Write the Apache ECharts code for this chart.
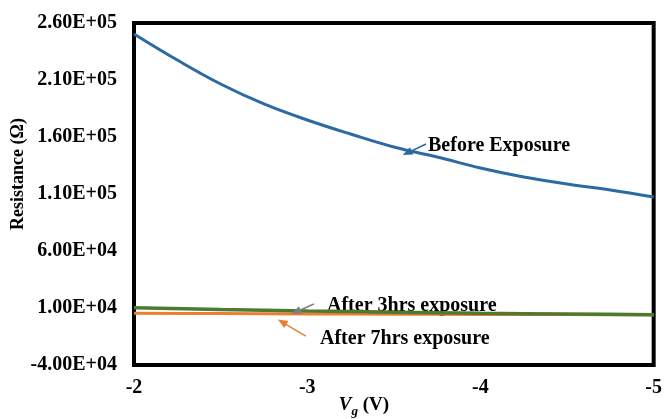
<!DOCTYPE html>
<html>
<head>
<meta charset="utf-8">
<script src="https://cdn.jsdelivr.net/npm/echarts@6/dist/echarts.min.js"></script>
<style>
html,body{margin:0;padding:0;background:#fff;}
#c{width:665px;height:419px;}
</style>
</head>
<body>
<div id="c"></div>
<script>
// Gate voltage (V)
const vgBefore = [-2.00,-2.25,-2.50,-2.75,-3.00,-3.25,-3.50,-3.75,-4.00,-4.25,-4.50,-4.75,-5.00];
const resBefore = [250400,227500,206500,189000,174900,162600,151200,142500,132800,124900,118800,113500,107400];
const vgAfter = [-2.0,-2.5,-3.0,-3.5,-4.0,-4.5,-5.0];
const res3hrs = [10200,8700,7400,6300,5400,4700,4100];
const res7hrs = [5400,5100,4800,4600,4400,4200,4000];
const yTicks = { min: -40000, max: 260000, interval: 50000 };
const xTicks = { min: -5, max: -2, interval: 1 };
// annotation arrows in data coordinates [start, tip]
const arrowBefore = [[-3.686,153900],[-3.577,146000]];
const arrow3hrs = [[-3.038,13500],[-2.935,6500]];
const arrow7hrs = [[-2.992,-14600],[-2.855,-2300]];

const FONT = '"Liberation Serif","Times New Roman",serif';
function sci(v){
  let s = Number(v).toExponential(2).toUpperCase();
  return s.replace(/E([+-])(\d)$/, 'E$10$2');
}
function pairs(xs, ys){ return xs.map((x,i)=>[x, ys[i]]); }
function arrowLine(a, color){
  return {
    silent: true, animation: false,
    symbol: ['none','triangle'], symbolSize: [8,10],
    label: {show:false},
    lineStyle: {color: color, width: 1.5, type: 'solid'},
    emphasis: {disabled: true},
    data: [[{coord: a[0]}, {coord: a[1]}]]
  };
}
const chart = echarts.init(document.getElementById('c'), null, {renderer:'canvas'});
chart.setOption({
  animation: false,
  backgroundColor: '#fff',
  grid: {left: 134, right: 8, top: 23, bottom: 54, show: true, borderColor: '#000', borderWidth: 4, backgroundColor: 'transparent'},
  xAxis: {
    type: 'value', inverse: true, min: xTicks.min, max: xTicks.max, interval: xTicks.interval,
    axisLine: {show: false}, axisTick: {show: false}, splitLine: {show: false},
    axisLabel: {color: '#000', fontFamily: FONT, fontWeight: 'bold', fontSize: 20, margin: 13,
      formatter: v => String(v)}
  },
  yAxis: {
    type: 'value', min: yTicks.min, max: yTicks.max, interval: yTicks.interval,
    axisLine: {show: false}, axisTick: {show: false}, splitLine: {show: false},
    axisLabel: {color: '#000', fontFamily: FONT, fontWeight: 'bold', fontSize: 20, margin: 17, formatter: sci}
  },
  series: [
    {name: 'Before Exposure', type: 'line', data: pairs(vgBefore, resBefore), smooth: 0.4, showSymbol: false,
      lineStyle: {color: '#2C6AA3', width: 3}, itemStyle: {color: '#2C6AA3'}, z: 3,
      markLine: arrowLine(arrowBefore, '#2C6AA3')},
    {name: 'After 7hrs exposure', type: 'line', data: pairs(vgAfter, res7hrs), smooth: 0.3, showSymbol: false,
      lineStyle: {color: '#ED7D31', width: 3}, itemStyle: {color: '#ED7D31'}, z: 2,
      markLine: arrowLine(arrow7hrs, '#ED7D31')},
    {name: 'After 3hrs exposure', type: 'line', data: pairs(vgAfter, res3hrs), smooth: 0.3, showSymbol: false,
      lineStyle: {color: '#4E7A30', width: 3.5}, itemStyle: {color: '#4E7A30'}, z: 3,
      markLine: arrowLine(arrow3hrs, '#7F7F7F')}
  ],
  graphic: [
    {type: 'text', x: 18, y: 174, rotation: Math.PI/2, silent: true,
      style: {text: 'Resistance (Ω)', font: 'bold 18px ' + FONT, fill: '#000', textAlign: 'center', textVerticalAlign: 'middle'}},
    {type: 'text', x: 364, y: 405, silent: true,
      style: {text: '{v|V}{g|g}{n| (V)}', textAlign: 'center', textVerticalAlign: 'middle', fill: '#000',
        rich: {
          v: {fontFamily: FONT, fontWeight: 'bold', fontStyle: 'italic', fontSize: 19, lineHeight: 26},
          g: {fontFamily: FONT, fontWeight: 'bold', fontStyle: 'italic', fontSize: 13, lineHeight: 13, verticalAlign: 'bottom'},
          n: {fontFamily: FONT, fontWeight: 'bold', fontSize: 19, lineHeight: 26}
        }}},
    {type: 'text', x: 428, y: 146, silent: true,
      style: {text: 'Before Exposure', font: 'bold 20px ' + FONT, fill: '#000', textAlign: 'left', textVerticalAlign: 'middle'}},
    {type: 'text', x: 327, y: 306, silent: true,
      style: {text: 'After 3hrs exposure', font: 'bold 20px ' + FONT, fill: '#000', textAlign: 'left', textVerticalAlign: 'middle'}},
    {type: 'text', x: 320, y: 339, silent: true,
      style: {text: 'After 7hrs exposure', font: 'bold 20px ' + FONT, fill: '#000', textAlign: 'left', textVerticalAlign: 'middle'}}
  ]
});
</script>
</body>
</html>
